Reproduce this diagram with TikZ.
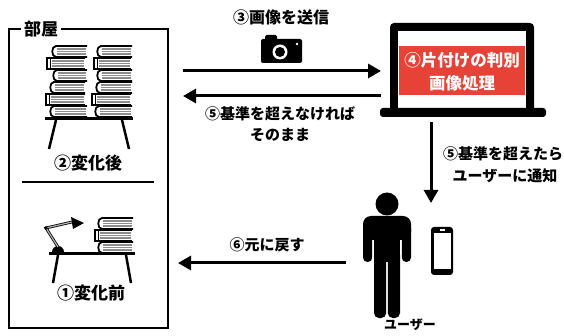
\documentclass[tikz,border=0pt]{standalone}
\usepackage{fontspec}
\setmainfont{Noto Sans CJK JP}
\usetikzlibrary{arrows.meta}
\definecolor{alertred}{RGB}{231,66,55}
\definecolor{pagegray}{RGB}{140,140,140}

% page block of a lying book: x, top y, width, left offset
\newcommand\bookpages[4]{%
  \fill[pagegray] (#1+#4,#2+2.2) rectangle (#1+#3-1,#2+8.8);
  \draw[white,line width=0.7] (#1+#4,#2+4.4) -- (#1+#3-1.5,#2+4.4)
                              (#1+#4,#2+6.6) -- (#1+#3-1.5,#2+6.6);}
% book with a rounded spine: x, top y, width
\newcommand\roundbook[3]{%
  \bookpages{#1}{#2}{#3}{4.5}
  \draw[line width=1.8] (#1+#3,#2) -- (#1+4,#2)
    .. controls (#1-1,#2) and (#1-1,#2+11) .. (#1+4,#2+11) -- (#1+#3,#2+11);}
% book with a flat spine: x, top y, width
\newcommand\flatbook[3]{%
  \bookpages{#1}{#2}{#3}{5}
  \draw[line width=1.8] (#1+#3,#2) -- (#1,#2) -- (#1,#2+11) -- (#1+#3,#2+11);
  \draw[line width=1] (#1+3.5,#2) -- (#1+3.5,#2+11);}

\begin{document}
\begin{tikzpicture}[x=1pt,y=-1pt,
  lbl/.style={font=\bfseries\fontsize{15}{17}\selectfont, inner sep=0pt},
  biglbl/.style={font=\bfseries\fontsize{17}{19}\selectfont, inner sep=0pt},
  pclbl/.style={font=\bfseries\fontsize{16.5}{18}\selectfont, text=white, inner sep=0pt},
  flow/.style={line width=3, -{Triangle[length=13pt,width=14pt]}},
  leg/.style={line width=2.5}]

\useasboundingbox (0,0) rectangle (564,336);

% ---- room ----
\draw[line width=2] (9,29) rectangle (168,328);
\node[biglbl, fill=white, inner xsep=3pt, inner ysep=1pt] (room) at (41,29) {部屋};
\draw[line width=2.5] (22,182) -- (154,182);

% tidy desk: two stacks of books
\roundbook{52}{46}{35}
\flatbook{47}{58}{38}
\roundbook{53}{70}{34}
\roundbook{50}{82}{35}
\flatbook{46}{94}{39}
\roundbook{50}{106}{37}
\roundbook{97}{46}{35}
\flatbook{94}{58}{37}
\roundbook{97}{70}{35}
\roundbook{96}{82}{36}
\flatbook{92}{94}{39}
\roundbook{95}{106}{37}
\draw[line width=3] (45,118.5) -- (133,118.5);
\draw[leg] (56,120) -- (49,149);
\draw[leg] (122,120) -- (129,149);
\node[biglbl] (after) at (88,163) {②変化後};

% messy desk: lamp and a few books
\roundbook{98}{218}{35}
\flatbook{95}{230}{37}
\roundbook{98}{242}{35}
\draw[line width=3] (49,253.5) -- (135,253.5);
\draw[leg] (58,255) -- (53,283);
\draw[leg] (126,255) -- (131,283);
\fill (52,252) arc[start angle=180, end angle=360, radius=6];
\draw[line width=0.8, double=gray!60, double distance=1.2pt] (58,247) -- (46,228) -- (72,222);
\fill (46,228) circle[radius=1.8];
\fill (71,217) -- (84,223) -- (73,229) -- cycle;
\node[biglbl] (before) at (91,293) {①変化前};

% ---- laptop ----
\fill[rounded corners=4] (390,23) rectangle (534,112);
\fill[white] (398,31) rectangle (526,108);
\fill[rounded corners=3] (380,108) rectangle (546,117);
\fill[alertred] (399,46) rectangle (525,95);
\node[pclbl] (judge) at (462,60) {④片付けの判別};
\node[pclbl] (proc) at (462,83) {画像処理};

% ---- camera ----
\fill[rounded corners=2] (261,39) rectangle (302,63);
\fill[rounded corners=1.5] (265,35) rectangle (277,41);
\fill[white] (280,52) circle[radius=7.5];
\fill (280,52) circle[radius=5];
\fill[white] (297,44) circle[radius=1.4];

% ---- user ----
\fill (387,204) circle[radius=11.5];
\fill[rounded corners=8] (363,216) rectangle (411,240);
\fill[rounded corners=4.4] (363,228) -- (363,262) -- (372.2,262) -- (372.2,228);
\fill[rounded corners=4.4] (401.8,228) -- (401.8,262) -- (411,262) -- (411,228);
\fill (374,226) rectangle (400,262);
\fill[rounded corners=5] (374,255) -- (374,318) -- (386.2,318) -- (386.2,255);
\fill[rounded corners=5] (387.8,255) -- (387.8,318) -- (400,318) -- (400,255);
\node[font=\bfseries\fontsize{13}{15}\selectfont, inner sep=0pt] (user) at (410,325) {ユーザー};

% smartphone
\fill[rounded corners=3] (431,227) rectangle (453,275);
\fill[white] (433.5,233) rectangle (450.5,269.5);
\fill[white] (439.5,229.5) rectangle (444.5,231);

% ---- connectors ----
\coordinate (roomout) at (183,71);
\coordinate (pcin) at (381,71);
\coordinate (pcout) at (381,96);
\coordinate (roomin) at (183,96);
\coordinate (pcdown) at (431,122);
\coordinate (notify) at (431,203);
\coordinate (userout) at (346,263);
\coordinate (restore) at (178,263);
\draw[flow] (roomout) -- (pcin);
\draw[flow] (pcout) -- (roomin);
\draw[flow] (pcdown) -- (notify);
\draw[flow] (userout) -- (restore);

\node[lbl, font=\bfseries\fontsize{16}{18}\selectfont] (send) at (281,17) {③画像を送信};
\node[lbl] (keep1) at (280,114) {⑤基準を超えなければ};
\node[lbl] (keep2) at (280,135) {そのまま};
\node[lbl] (over1) at (503,154) {⑤基準を超えたら};
\node[lbl] (over2) at (505,176) {ユーザーに通知};
\node[lbl] (back) at (267,245) {⑥元に戻す};
\end{tikzpicture}
\end{document}
